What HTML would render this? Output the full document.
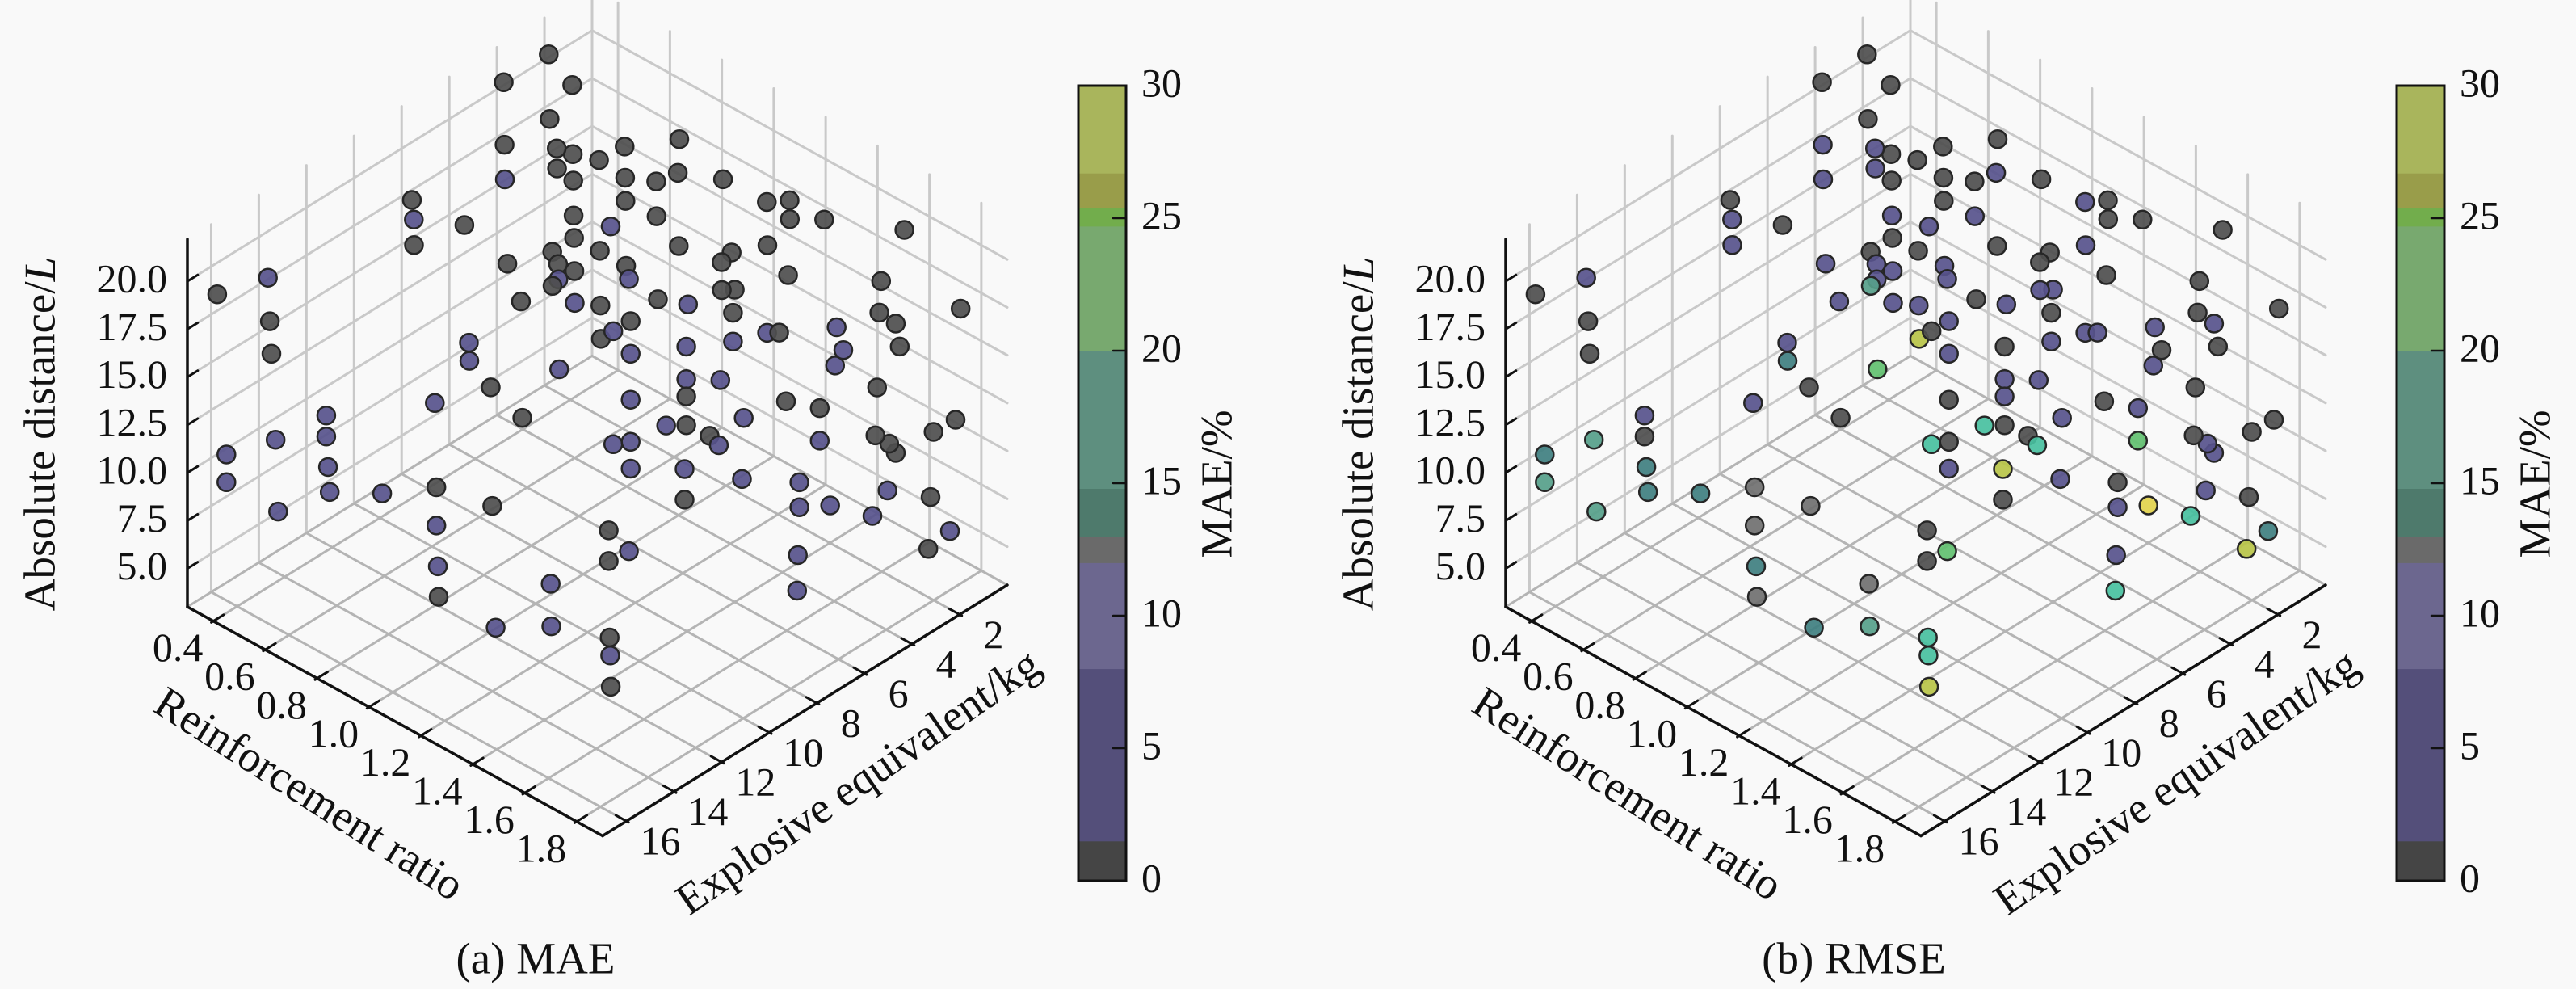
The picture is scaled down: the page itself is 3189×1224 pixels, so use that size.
<!DOCTYPE html>
<html>
<head>
<meta charset="utf-8">
<style>
html,body{margin:0;padding:0;background:#f9f9f9;}
svg{display:block;}
text{font-family:"Liberation Serif","Times New Roman",serif;fill:#111;}
</style>
</head>
<body>
<svg id="chart" width="3189" height="1224" viewBox="0 0 3189 1224" xmlns="http://www.w3.org/2000/svg">
<rect x="0" y="0" width="3189" height="1224" fill="#f9f9f9"/>
</svg>
<script>
// ---- data ----
const rTicks = [0.4,0.6,0.8,1.0,1.2,1.4,1.6,1.8];
const eTicks = [2,4,6,8,10,12,14,16];
const zTicks = [5.0,7.5,10.0,12.5,15.0,17.5,20.0];
const cbTicks = [0,5,10,15,20,25,30];
const ratio = [0.358,0.446,0.461,0.464,0.465,0.50,0.542,0.56,0.366,0.366,0.439,0.473,0.469,0.527,0.528,0.554,0.563,0.598,0.602,0.657,0.694,0.668,0.695,0.722,0.75,0.748,0.751,0.751,0.744,0.802,0.844,0.761,0.79,0.897,0.898,0.858,0.783,0.966,0.571,0.571,0.472,0.376,0.574,0.376,0.578,0.477,0.68,0.786,0.895,0.786,0.789,0.79,1.009,0.997,1.106,0.654,0.804,0.707,0.805,0.855,1.0,0.746,0.863,0.743,0.978,0.854,0.884,1.145,1.131,1.164,1.23,1.261,1.364,1.238,1.347,1.618,1.632,1.809,1.65,1.682,1.69,1.343,1.368,1.365,1.218,1.277,1.165,1.131,1.165,1.274,1.365,1.431,1.455,1.567,1.58,1.564,1.274,1.274,1.34,1.646,1.165,1.468,1.534,1.386,1.234,1.274,1.319,1.337,1.131,1.165,1.534,1.643,1.67,1.682,1.756,1.799,1.165,1.27,1.382,1.494,1.27,1.494,1.554,1.666,1.637,1.75,1.788,1.746,1.122,1.162,1.122,1.491,1.49,1.262,1.322,1.426];
const explosive = [16.38,15.21,15.29,15.26,9.37,9.67,10.12,8.20,4.43,2.54,2.35,3.67,5.52,6.14,3.97,3.58,4.34,4.04,3.0,4.67,5.05,7.57,5.98,6.03,5.65,6.30,6.58,4.59,7.83,6.2,5.58,10.2,10.5,7.89,6.15,10.34,11.87,10.19,14.12,14.12,15.17,16.19,14.08,16.19,14.05,15.12,12.96,11.84,10.68,11.84,11.81,11.79,9.47,11.65,10.5,2.49,1.83,3.05,2.81,2.45,2.13,3.46,3.43,4.05,3.75,4.61,4.82,3.35,3.62,2.08,1.84,2.17,1.85,2.86,3.18,1.25,2.38,0.97,2.65,2.31,2.23,5.92,5.65,5.69,7.24,6.62,7.81,8.17,7.81,6.66,5.69,4.98,4.73,3.54,3.40,3.57,6.66,6.66,5.95,2.70,7.81,4.59,3.89,5.47,7.07,6.66,6.17,5.98,8.17,7.81,3.89,2.74,2.45,2.31,1.53,1.07,7.81,6.69,5.50,4.31,6.69,4.31,3.67,2.48,2.80,1.59,1.19,1.64,8.26,7.85,8.26,4.34,4.36,9.75,10.38,11.49];
const distance = [19.28,19.9,17.8,16.1,19.6,19.07,18.4,18.1,21.2,21.2,20.0,19.5,19.55,18.65,18.6,18.2,18.1,17.5,17.8,16.6,16.0,16.4,16.0,15.6,15.15,15.2,15.1,15.4,15.2,14.3,14.0,15.0,14.5,12.85,13.1,13.5,13.3,12.6,12.8,11.7,11.6,10.9,10.1,9.45,8.8,7.85,8.65,8.9,7.85,6.9,4.77,3.17,3.7,3.0,3.0,18.5,19.5,17.7,18.05,18.6,19.1,17.1,17.15,16.2,16.7,15.4,15.1,17.3,16.9,19.1,19.5,19.0,19.5,18.0,17.5,20.4,18.7,17.5,17.4,16.8,15.6,18.8,18.8,17.6,18.4,18.1,17.3,16.8,15.6,15.9,16.1,16.5,16.5,16.7,15.5,14.7,14.2,13.3,14.1,13.5,13.2,12.9,12.5,12.1,11.8,11.8,11.2,10.7,10.9,11.0,10.8,11.0,10.55,10.05,11.1,11.7,9.6,9.5,8.9,8.65,7.9,7.35,7.4,8.1,6.8,7.7,5.9,5.0,6.4,5.3,4.8,4.85,3.0,3.0,3.0,3.0];
const maeVals = [1,6,1,1,1,6,1,0.5,1,1,1,1,1,6,1,1,1,1,1,1,1,1,1,1,1,6,1,1,1,6,1,6,6,6,1,1,6,1,6,6,6,6,6,6,6,6,6,1,1,6,4,1,6,6,6,0.5,1,1,1,1,1,1,1,6,1,1,6,1,1,1,1,0.5,1,1,1,1,1,1,1,1,1,1,1,1,1,6,1,6,6,4,6,6,1,6,6,6,6,1,6,1,6,1,1,6,6,1,1,6,6,6,6,1,1,1,1,1,6,6,6,6,1,6,6,6,6,1,4,1,1,6,1,6,6,1,6,1];
const rmseVals = [1,6,1,1,1,6,6,0.5,1,1,1,1,6,6,6,1,6,1,1,6,1,6,1,6,6,6,16,1,6,6,6,6,13.8,22,26,1,6,1,6,1,16,14,13.8,16,13.8,16,13.8,12.5,12.5,12.5,14,12.5,12.5,14,16,0.5,1,1,1,6,1,1,6,6,1,6,6,1,1,6,1,0.5,1,6,1,1,1,1,1,6,1,6,6,1,1,6,6,1,6,1,6,6,6,6,1,6,6,6,6,1,1,1,6,6,18,1,1,18,18,1,22,1,6,6,1,1,6,26,6,1,1,6,29,6,17,1,14,26,1,22,1,6,18,18,18,26];
const cbBounds = [0,1.5,8,12,13,14.8,20,24.7,25.4,26.7,30];
const cbColors = ['#454545','#544f7a','#6c678f','#6a6a6a','#4e7a6c','#5e8f7f','#78a96f','#72ad4c','#999d4a','#a9b55c'];

// ---- axis functions ----
const R0=0.3,R1=1.9,E0=0,E1=17,Z0=3.0,Z1=22.2;
function proj(dx,r,e,z){
  const u=(r-R0)/(R1-R0), w=(E1-e)/(E1-E0), t=(z-Z0)/(Z1-Z0);
  return [dx+232+514*u+501*w, 751+283.5*u-310.5*w-455*t];
}
function markerColor(v){
  if(v<1.5) return '#4e4e4e';
  if(v<8) return '#57538c';
  if(v<12) return '#6c689a';
  if(v<13) return '#707070';
  if(v<14.8) return '#3f7f80';
  if(v<17) return '#56a08a';
  if(v<20) return '#48c0a0';
  if(v<24.7) return '#62c070';
  if(v<26.7) return '#b8c448';
  return '#e2d24c';
}
const svg=document.getElementById('chart');
const NS='http://www.w3.org/2000/svg';
function mk(tag,attrs,parent){const el=document.createElementNS(NS,tag);for(const k in attrs)el.setAttribute(k,attrs[k]);(parent||svg).appendChild(el);return el;}
function line(g,p,q,stroke,sw){return mk('line',{x1:p[0],y1:p[1],x2:q[0],y2:q[1],stroke:stroke,'stroke-width':sw,'stroke-linecap':'round'},g);}

function panel(dx,vals,caption,key){
  const g=mk('g',{});
  
  
  const grid=mk('g',{},g);
  
  
  const GW='#c9c9c9', GF='#b4b4b4';
  // left wall (r = R0): vertical lines at e ticks, horizontal at z ticks
  eTicks.forEach(e=>line(grid,proj(dx,R0,e,Z0),proj(dx,R0,e,Z1),GW,3));
  zTicks.forEach(z=>line(grid,proj(dx,R0,E1,z),proj(dx,R0,E0,z),GW,3));
  // right wall (e = E0)
  rTicks.forEach(r=>line(grid,proj(dx,r,E0,Z0),proj(dx,r,E0,Z1),GW,3));
  zTicks.forEach(z=>line(grid,proj(dx,R0,E0,z),proj(dx,R1,E0,z),GW,3));
  // floor
  rTicks.forEach(r=>line(grid,proj(dx,r,E1,Z0),proj(dx,r,E0,Z0),GF,3));
  eTicks.forEach(e=>line(grid,proj(dx,R0,e,Z0),proj(dx,R1,e,Z0),GF,3));
  // pane edges
  line(grid,proj(dx,R0,E0,Z0),proj(dx,R0,E0,Z1),GW,3);
  line(grid,proj(dx,R0,E1,Z0),proj(dx,R0,E0,Z0),GF,3);
  line(grid,proj(dx,R0,E0,Z0),proj(dx,R1,E0,Z0),GF,3);

  // axes
  const ax=mk('g',{},g);
  
  
  line(ax,proj(dx,R0,E1,Z0),proj(dx,R0,E1,Z1),'#111',3.5);
  line(ax,proj(dx,R0,E1,Z0),proj(dx,R1,E1,Z0),'#111',3.5);
  line(ax,proj(dx,R1,E1,Z0),proj(dx,R1,E0,Z0),'#111',3.5);
  const wu=[0.85,-0.527], nu=[-0.876,-0.483];
  rTicks.forEach(r=>{
    const p=proj(dx,r,E1,Z0);
    line(ax,[p[0]-3*wu[0],p[1]-3*wu[1]],[p[0]+15*wu[0],p[1]+15*wu[1]],'#111',3);
    const t=mk('text',{x:p[0]-44,y:p[1]+38,'font-size':50,'text-anchor':'middle','dominant-baseline':'middle'},ax);
    
    
    t.textContent=r.toFixed(1);
  });
  eTicks.forEach(e=>{
    const p=proj(dx,R1,e,Z0);
    line(ax,[p[0]-3*nu[0],p[1]-3*nu[1]],[p[0]+15*nu[0],p[1]+15*nu[1]],'#111',3);
    const t=mk('text',{x:p[0]+42,y:p[1]+30,'font-size':50,'text-anchor':'middle','dominant-baseline':'middle'},ax);
    
    
    t.textContent=String(e);
  });
  zTicks.forEach(z=>{
    const p=proj(dx,R0,E1,z);
    line(ax,p,[p[0]+15*wu[0],p[1]+15*wu[1]],'#111',3);
    const t=mk('text',{x:p[0]-25,y:p[1]+2,'font-size':50,'text-anchor':'end','dominant-baseline':'middle'},ax);
    
    
    t.textContent=z.toFixed(1);
  });
  // axis titles
  const zt=mk('text',{x:0,y:0,'font-size':55,'text-anchor':'middle','dominant-baseline':'middle',transform:'translate('+(dx+55)+',537) rotate(-90)'},g);
  
  
  zt.appendChild(document.createTextNode('Absolute distance/'));
  const it=mk('tspan',{'font-style':'italic'},zt);it.textContent='L';
  const xt=mk('text',{x:0,y:0,'font-size':55,'text-anchor':'middle','dominant-baseline':'middle',transform:'translate('+(dx+380)+',987) rotate(32.5)'},g);
  
  
  xt.textContent='Reinforcement ratio';
  const yt=mk('text',{x:0,y:0,'font-size':55,'text-anchor':'middle','dominant-baseline':'middle',transform:'translate('+(dx+1065)+',972) rotate(-34.7)'},g);
  
  
  yt.textContent='Explosive equivalent/kg';
  // points sorted back-to-front
  const pts=mk('g',{},g);
  
  
  const idx=ratio.map((_,i)=>i);
  idx.sort((a,b)=>{
    const da=(ratio[a]-R0)/(R1-R0)-(E1-explosive[a])/(E1-E0);
    const db=(ratio[b]-R0)/(R1-R0)-(E1-explosive[b])/(E1-E0);
    return da-db;
  });
  idx.forEach(i=>{
    const p=proj(dx,ratio[i],explosive[i],distance[i]);
    const c=mk('circle',{cx:p[0].toFixed(1),cy:p[1].toFixed(1),r:11,fill:markerColor(vals[i]),stroke:'#262626','stroke-width':2.5,'fill-opacity':0.92},pts);
    
    
  });
  // caption
  const cap=mk('text',{x:dx+663,y:1192,'font-size':55,'text-anchor':'middle','dominant-baseline':'middle'},g);
  
  
  cap.textContent=caption;
  // colorbar
  const cb=mk('g',{},g);
  
  
  const cx0=dx+1335, cw=59, cy0=106, cy1=1090;
  const vy=v=>cy1-(v-cbBounds[0])/(cbBounds[cbBounds.length-1]-cbBounds[0])*(cy1-cy0);
  cbColors.forEach((col,k)=>{
    const yTop=vy(cbBounds[k+1]), yBot=vy(cbBounds[k]);
    const rct=mk('rect',{x:cx0,y:yTop,width:cw,height:yBot-yTop+0.5,fill:col},cb);
    
    
  });
  mk('rect',{x:cx0,y:cy0,width:cw,height:cy1-cy0,fill:'none',stroke:'#111','stroke-width':3},cb);
  cbTicks.forEach(v=>{
    const y=vy(v);
    if(v>0&&v<30) line(cb,[cx0+cw-16,y],[cx0+cw,y],'#111',2.5);
    const t=mk('text',{x:cx0+78,y:y+2,'font-size':50,'text-anchor':'start','dominant-baseline':'middle'},cb);
    
    
    t.textContent=String(v);
  });
  const ct=mk('text',{x:0,y:0,'font-size':55,'text-anchor':'middle','dominant-baseline':'middle',transform:'translate('+(cx0+177)+',599) rotate(-90)'},cb);
  
  
  ct.textContent='MAE/%';
}
panel(0,maeVals,'(a) MAE','mae');
panel(1632,rmseVals,'(b) RMSE','rmse');
</script>
</body>
</html>
